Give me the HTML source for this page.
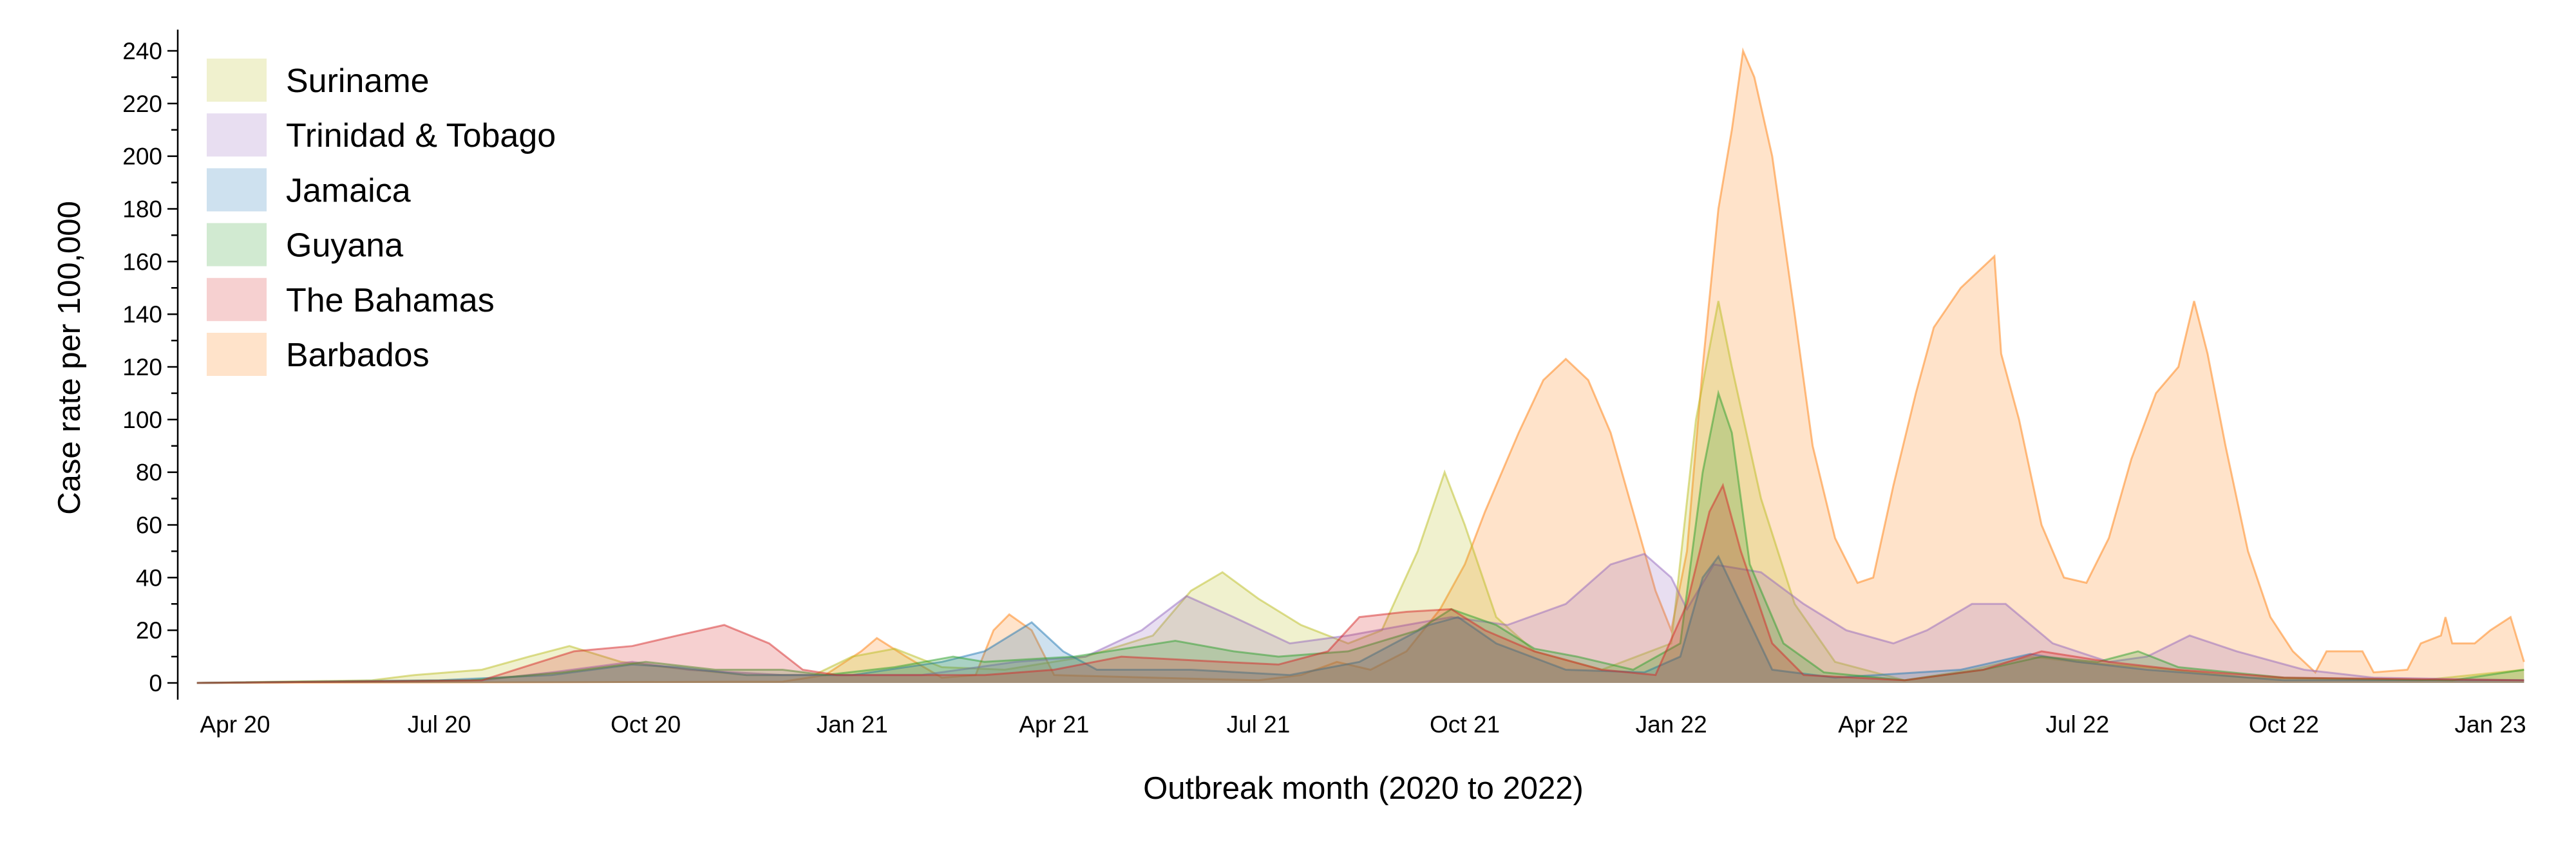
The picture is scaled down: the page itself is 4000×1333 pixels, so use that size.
<!DOCTYPE html>
<html><head><meta charset="utf-8">
<style>
html,body{margin:0;padding:0;background:#fff;}
svg{display:block;}
.tick{font-family:"Liberation Sans Narrow","Liberation Sans",sans-serif;font-size:37px;fill:#000;}
.title{font-family:"Liberation Sans",sans-serif;font-size:49px;fill:#000;}
.leg{font-family:"Liberation Sans Narrow","Liberation Sans",sans-serif;font-size:52px;fill:#000;}
</style></head>
<body>
<svg id="chart" width="4000" height="1333" viewBox="0 0 4000 1333">
<g id="areas"></g>
<g id="axes"></g>
<g id="legend"></g>
<text class="title" x="2117" y="1241" text-anchor="middle">Outbreak month (2020 to 2022)</text>
<text class="title" transform="translate(124,556) rotate(-90)" text-anchor="middle">Case rate per 100,000</text>
</svg>
<script>
const seriesNames = ["Barbados","Suriname","Trinidad & Tobago","Jamaica","Guyana","The Bahamas"];
const legendOrder = ["Suriname","Trinidad & Tobago","Jamaica","Guyana","The Bahamas","Barbados"];
const yTicks = [0,20,40,60,80,100,120,140,160,180,200,220,240];
const xTickDates = ["2020-04-01","2020-07-01","2020-10-01","2021-01-01","2021-04-01","2021-07-01","2021-10-01","2022-01-01","2022-04-01","2022-07-01","2022-10-01","2023-01-01"];
const xTickLabels = ["Apr 20","Jul 20","Oct 20","Jan 21","Apr 21","Jul 21","Oct 21","Jan 22","Apr 22","Jul 22","Oct 22","Jan 23"];

const barbadosDates = ["2020-03-15","2020-12-01","2020-12-20","2021-01-05","2021-01-12","2021-01-25","2021-02-10","2021-02-25","2021-03-05","2021-03-12","2021-03-22","2021-04-01","2021-05-15","2021-07-01","2021-07-20","2021-08-05","2021-08-20","2021-09-05","2021-09-20","2021-10-01","2021-10-10","2021-10-25","2021-11-05","2021-11-15","2021-11-25","2021-12-05","2021-12-15","2021-12-25","2022-01-01","2022-01-08","2022-01-15","2022-01-22","2022-01-28","2022-02-02","2022-02-07","2022-02-15","2022-02-25","2022-03-05","2022-03-15","2022-03-25","2022-04-01","2022-04-10","2022-04-20","2022-04-28","2022-05-10","2022-05-25","2022-05-28","2022-06-05","2022-06-15","2022-06-25","2022-07-05","2022-07-15","2022-07-25","2022-08-05","2022-08-15","2022-08-22","2022-08-28","2022-09-05","2022-09-15","2022-09-25","2022-10-05","2022-10-15","2022-10-20","2022-11-05","2022-11-10","2022-11-25","2022-12-01","2022-12-10","2022-12-12","2022-12-15","2022-12-25","2023-01-01","2023-01-10","2023-01-16"];
const barbadosValues = [0,0.5,3,12,17,10,2,3,20,26,20,3,2,1,3,8,5,12,28,45,65,95,115,123,115,95,65,35,20,50,120,180,210,240,230,200,140,90,55,38,40,75,110,135,150,162,125,100,60,40,38,55,85,110,120,145,125,90,50,25,12,4,12,12,4,5,15,18,25,15,15,20,25,8];

const surinameDates = ["2020-03-15","2020-06-01","2020-06-20","2020-07-20","2020-08-10","2020-08-28","2020-09-20","2020-10-10","2020-11-15","2020-12-15","2021-01-01","2021-01-20","2021-02-10","2021-03-10","2021-04-15","2021-05-15","2021-06-01","2021-06-15","2021-07-01","2021-07-20","2021-08-10","2021-08-25","2021-09-10","2021-09-22","2021-10-01","2021-10-15","2021-11-01","2021-12-01","2022-01-01","2022-01-12","2022-01-22","2022-01-28","2022-02-10","2022-02-25","2022-03-15","2022-04-15","2022-05-15","2022-06-10","2022-07-01","2022-08-01","2022-09-15","2022-12-01","2023-01-16"];
const surinameValues = [0,1,3,5,10,14,8,6,3,3,10,13,6,5,10,18,35,42,32,22,15,20,50,80,60,25,12,5,15,100,145,120,70,30,8,1,5,10,8,6,2,1,5];

const trinidadDates = ["2020-03-15","2020-07-20","2020-08-20","2020-09-25","2020-10-20","2020-12-01","2021-02-01","2021-03-15","2021-04-15","2021-05-10","2021-05-30","2021-06-20","2021-07-15","2021-08-10","2021-09-05","2021-09-25","2021-10-20","2021-11-15","2021-12-05","2021-12-20","2022-01-01","2022-01-08","2022-01-20","2022-02-10","2022-03-01","2022-03-20","2022-04-10","2022-04-25","2022-05-15","2022-05-30","2022-06-20","2022-07-15","2022-08-01","2022-08-20","2022-09-10","2022-10-10","2022-11-10","2023-01-16"];
const trinidadValues = [0,1,4,8,5,3,3,8,10,20,33,25,15,18,22,25,22,30,45,49,40,28,45,42,30,20,15,20,30,30,15,8,10,18,12,5,2,1];

const jamaicaDates = ["2020-03-15","2020-07-01","2020-08-20","2020-09-25","2020-10-15","2020-11-15","2021-01-01","2021-02-10","2021-03-01","2021-03-22","2021-04-05","2021-04-20","2021-06-01","2021-07-15","2021-08-15","2021-09-15","2021-09-28","2021-10-15","2021-11-15","2021-12-20","2022-01-05","2022-01-15","2022-01-22","2022-02-01","2022-02-15","2022-03-15","2022-05-10","2022-06-10","2022-07-01","2022-08-01","2022-10-01","2023-01-16"];
const jamaicaValues = [0,1,3,7,6,3,3,8,12,23,12,5,5,3,8,22,25,15,5,4,10,40,48,30,5,2,5,11,8,5,1,1];

const guyanaDates = ["2020-03-15","2020-07-15","2020-08-25","2020-10-01","2020-11-01","2020-12-01","2020-12-20","2021-01-20","2021-02-15","2021-03-01","2021-04-10","2021-05-10","2021-05-25","2021-06-20","2021-07-10","2021-08-10","2021-09-10","2021-09-25","2021-10-15","2021-11-01","2021-11-20","2021-12-15","2022-01-05","2022-01-15","2022-01-22","2022-01-28","2022-02-05","2022-02-20","2022-03-10","2022-04-15","2022-05-20","2022-06-15","2022-07-10","2022-07-28","2022-08-15","2022-10-01","2022-12-15","2023-01-16"];
const guyanaValues = [0,1,4,8,5,5,3,6,10,8,10,14,16,12,10,12,20,28,22,13,10,5,15,80,110,95,45,15,4,1,5,10,8,12,6,2,1,5];

const bahamasDates = ["2020-03-15","2020-07-20","2020-08-15","2020-08-30","2020-09-25","2020-10-15","2020-11-05","2020-11-25","2020-12-10","2020-12-25","2021-02-01","2021-03-01","2021-04-01","2021-05-01","2021-06-15","2021-07-10","2021-08-01","2021-08-15","2021-09-05","2021-09-25","2021-10-10","2021-11-01","2021-12-01","2021-12-25","2022-01-08","2022-01-18","2022-01-24","2022-02-01","2022-02-15","2022-03-01","2022-04-15","2022-05-20","2022-06-15","2022-07-15","2022-08-15","2022-10-01","2023-01-16"];
const bahamasValues = [0,1,8,12,14,18,22,15,5,3,3,3,5,10,8,7,12,25,27,28,20,12,5,3,30,65,75,50,15,3,1,5,12,8,5,2,1];

const colors = {"Barbados":"#ff7f0e","Suriname":"#bcbd22","Trinidad & Tobago":"#9467bd","Jamaica":"#1f77b4","Guyana":"#2ca02c","The Bahamas":"#d62728"};
const seriesData = {
  "Barbados":[barbadosDates,barbadosValues],
  "Suriname":[surinameDates,surinameValues],
  "Trinidad & Tobago":[trinidadDates,trinidadValues],
  "Jamaica":[jamaicaDates,jamaicaValues],
  "Guyana":[guyanaDates,guyanaValues],
  "The Bahamas":[bahamasDates,bahamasValues]
};

const NS="http://www.w3.org/2000/svg";
const t0=Date.UTC(2020,3,1), t1=Date.UTC(2023,0,1);
function parse(s){const p=s.split("-");return Date.UTC(+p[0],+p[1]-1,+p[2]);}
function xScale(s){return 365+(parse(s)-t0)/(t1-t0)*(3867-365);}
function yScale(v){return 1061-v*(1061-79)/240;}
function mk(tag,attrs,parent){const e=document.createElementNS(NS,tag);for(const k in attrs)e.setAttribute(k,attrs[k]);parent.appendChild(e);return e;}

const areas=document.getElementById("areas");
seriesNames.forEach(name=>{
  const [d,v]=seriesData[name];
  let line="";
  d.forEach((s,i)=>{line+=(i?"L":"M")+xScale(s).toFixed(1)+","+yScale(v[i]).toFixed(1);});
  const area=line+"L"+xScale(d[d.length-1]).toFixed(1)+","+yScale(0)+"L"+xScale(d[0]).toFixed(1)+","+yScale(0)+"Z";
  const a=mk("path",{d:area,fill:colors[name],"fill-opacity":"0.22",stroke:"none"},areas);
  
  
  const l=mk("path",{d:line,fill:"none",stroke:colors[name],"stroke-opacity":"0.5","stroke-width":"3"},areas);
  
  
});

const axes=document.getElementById("axes");
const yl=mk("line",{x1:276,x2:276,y1:46,y2:1087,stroke:"#000","stroke-width":"2.5"},axes);


for(let v=0;v<=240;v+=10){
  const major=v%20===0;
  const t=mk("line",{x1:major?260:266,x2:276,y1:yScale(v),y2:yScale(v),stroke:"#000","stroke-width":"2.5"},axes);
  
  
}
yTicks.forEach(v=>{
  const t=mk("text",{x:252,y:yScale(v)+13,"text-anchor":"end",class:"tick"},axes);
  t.textContent=v;
  
  
});
xTickDates.forEach((s,i)=>{
  const t=mk("text",{x:xScale(s),y:1138,"text-anchor":"middle",class:"tick"},axes);
  t.textContent=xTickLabels[i];
  
  
});

const legend=document.getElementById("legend");
legendOrder.forEach((name,i)=>{
  const cy=125+i*85.2;
  const g=mk("g",{},legend);
  
  
  mk("rect",{x:321,y:cy-34,width:93,height:67,fill:colors[name],"fill-opacity":"0.22"},g);
  const t=mk("text",{x:444,y:cy+18,class:"leg"},g);
  t.textContent=name;
});
</script>
</body></html>
